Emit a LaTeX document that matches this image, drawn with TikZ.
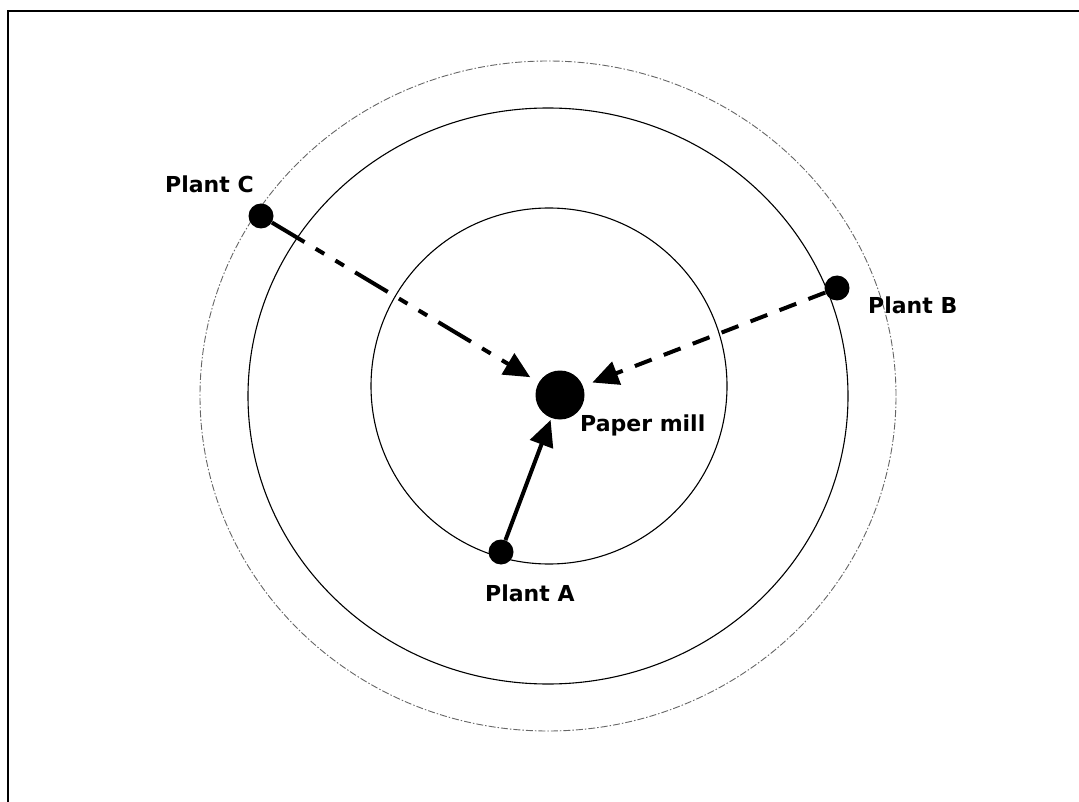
\documentclass[tikz,border=0pt]{standalone}
\usepackage{fontspec}
\setmainfont{DejaVu Sans}
\usetikzlibrary{arrows.meta}
\begin{document}
\begin{tikzpicture}[x=1pt,y=-1pt,
  ring/.style={line width=1.1pt},
  outerring/.style={line width=0.9pt, black!60, dash pattern=on 7pt off 2pt on 1.5pt off 2pt},
  plant/.style={circle, fill=black, minimum size=25pt, inner sep=0pt},
  millnode/.style={circle, fill=black, minimum size=49pt, inner sep=0pt},
  lbl/.style={anchor=base west, inner sep=0pt, font=\fontsize{22}{26}\selectfont\bfseries},
  flow/.style={line width=4pt, -{Triangle[length=26pt,width=24pt]}},
]
\useasboundingbox (0,0) rectangle (1079,802);
\draw[line width=2pt] (8,11) rectangle (1100,830);
% rings
\draw[outerring] (548,396) ellipse [x radius=348pt, y radius=335pt];
\draw[ring] (548,396) ellipse [x radius=300pt, y radius=288pt];
\draw[ring] (549,386) circle [radius=178pt];
% nodes
\node[millnode] (M) at (560,395) {};
\node[plant] (C) at (261,216) {};
\node[plant] (B) at (837,288) {};
\node[plant] (A) at (501,552) {};
% labels
\node[lbl] (lc) at (165,193) {Plant C};
\node[lbl] (lb) at (868,313) {Plant B};
\node[lbl] (la) at (485,601) {Plant A};
\node[lbl] (lm) at (580,431) {Paper mill};
% connectors
\draw[flow, dash pattern=on 38pt off 13pt on 10pt off 13pt on 10pt off 13pt, shorten >=10pt] (C) -- (M);
\draw[flow, dash pattern=on 18pt off 13pt, shorten >=10pt] (B) -- (M);
\draw[flow, shorten >=2pt] (A) -- (M);
\end{tikzpicture}
\end{document}
